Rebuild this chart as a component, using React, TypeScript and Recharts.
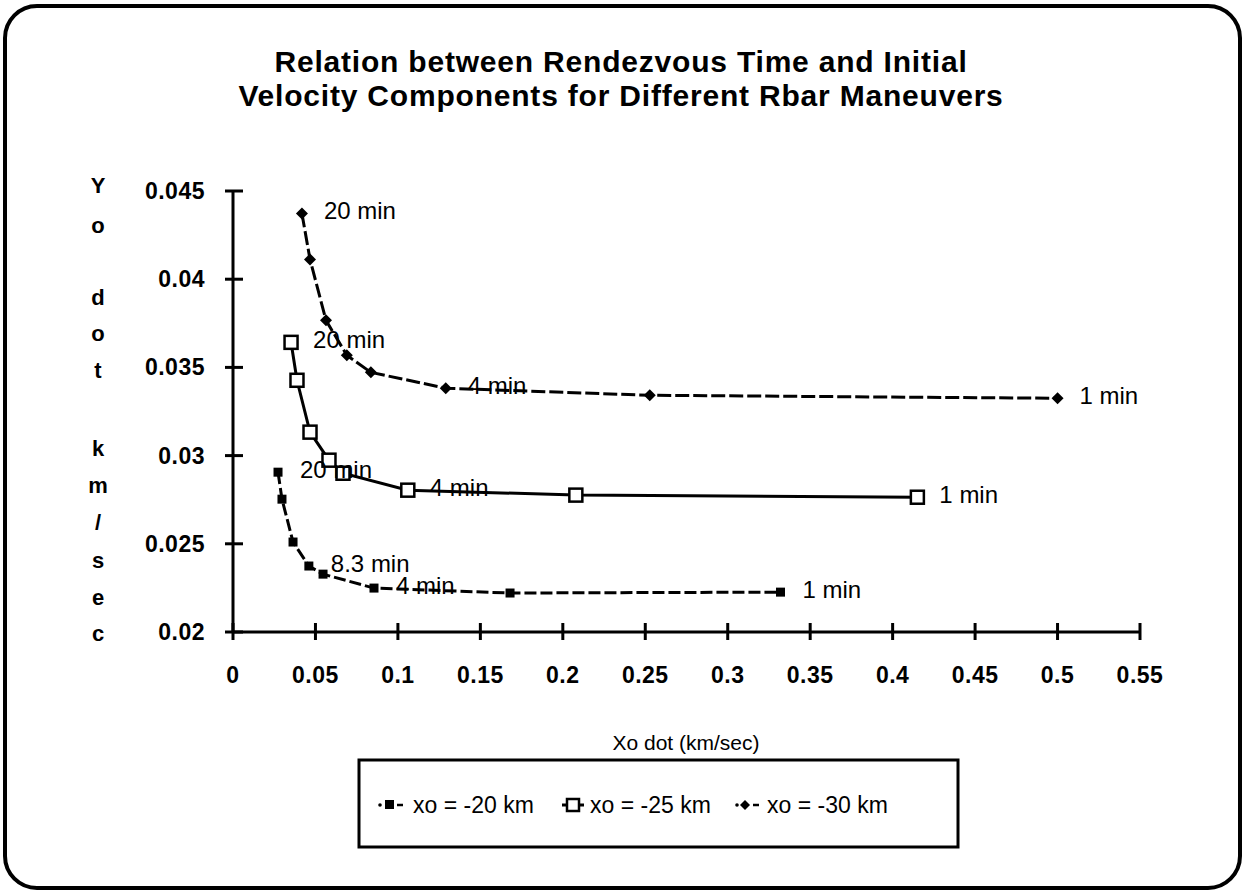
import React from 'react';
import { LineChart, Line, XAxis, YAxis, LabelList } from 'recharts';

const FONT = '"Liberation Sans", Arial, Helvetica, sans-serif';

// Axis ticks
const xTicks = [0, 0.05, 0.1, 0.15, 0.2, 0.25, 0.3, 0.35, 0.4, 0.45, 0.5, 0.55];
const yTicks = [0.02, 0.025, 0.03, 0.035, 0.04, 0.045];

// Series xo = -20 km
const xdot20 = [0.0273, 0.0297, 0.0364, 0.046, 0.0546, 0.0855, 0.168, 0.332];
const ydot20 = [0.02906, 0.02753, 0.0251, 0.02374, 0.02328, 0.02249, 0.02221, 0.02226];
const labels20 = ['20 min', '', '', '8.3 min', '', '4 min', '', '1 min'];

// Series xo = -25 km
const xdot25 = [0.0352, 0.0388, 0.0467, 0.0582, 0.0667, 0.106, 0.2079, 0.415];
const ydot25 = [0.03642, 0.03427, 0.03133, 0.02974, 0.029, 0.02804, 0.02776, 0.02764];
const labels25 = ['20 min', '', '', '', '', '4 min', '', '1 min'];

// Series xo = -30 km
const xdot30 = [0.0418, 0.0467, 0.0564, 0.069, 0.0836, 0.129, 0.2527, 0.5];
const ydot30 = [0.04373, 0.04112, 0.03767, 0.03569, 0.03472, 0.03382, 0.03342, 0.03325];
const labels30 = ['20 min', '', '', '', '', '4 min', '', '1 min'];

const titleLines = [
  'Relation between Rendezvous Time and Initial',
  'Velocity Components for Different Rbar Maneuvers',
];
const yLabelLetters = ['Y', 'o', 'd', 'o', 't', 'k', 'm', '/', 's', 'e', 'c'];
const xLabel = 'Xo dot (km/sec)';
const legendNames = ['xo = -20 km', 'xo = -25 km', 'xo = -30 km'];

function build(xs: number[], ys: number[], ls: string[]) {
  return xs.map((x, i) => ({ x, y: ys[i], label: ls[i] }));
}
const d20 = build(xdot20, ydot20, labels20);
const d25 = build(xdot25, ydot25, labels25);
const d30 = build(xdot30, ydot30, labels30);

const fmt = (v: number) => String(Number(v.toFixed(4)));

const XTick = (props: any) => {
  const { x, y, payload } = props;
  return (
    <g>
      <line x1={x} x2={x} y1={y - 9} y2={y + 8} stroke="#000" strokeWidth={3} />
      <text x={x} y={y + 43} textAnchor="middle" dominantBaseline="central"
        fontFamily={FONT} fontSize={23} fontWeight="bold" letterSpacing={0.5} fill="#000">
        {fmt(payload.value)}
      </text>
    </g>
  );
};

const YTick = (props: any) => {
  const { x, y, payload } = props;
  return (
    <g>
      <line x1={x - 8} x2={x + 10} y1={y} y2={y} stroke="#000" strokeWidth={3} />
      <text x={x - 28} y={y} textAnchor="end" dominantBaseline="central"
        fontFamily={FONT} fontSize={23} fontWeight="bold" letterSpacing={0.5} fill="#000">
        {fmt(payload.value)}
      </text>
    </g>
  );
};

const FilledSquare = (p: any) => {
  const { cx, cy, index } = p;
  if (cx == null || cy == null) return <g key={`a${index}`} />;
  return <rect key={`a${index}`} x={cx - 4.5} y={cy - 4.5} width={9} height={9} fill="#000" />;
};
const OpenSquare = (p: any) => {
  const { cx, cy, index } = p;
  if (cx == null || cy == null) return <g key={`b${index}`} />;
  return <rect key={`b${index}`} x={cx - 6.5} y={cy - 6.5} width={13} height={13} fill="#fff" stroke="#000" strokeWidth={2.5} />;
};
const Diamond = (p: any) => {
  const { cx, cy, index } = p;
  if (cx == null || cy == null) return <g key={`c${index}`} />;
  return <polygon key={`c${index}`} points={`${cx},${cy - 6} ${cx + 6},${cy} ${cx},${cy + 6} ${cx - 6},${cy}`} fill="#000" />;
};

const renderLabel = (p: any) => {
  const { x, y, value } = p;
  if (!value) return null;
  return (
    <text x={x + 22} y={y - 3} dominantBaseline="central" fontFamily={FONT}
      fontSize={24} fill="#000">
      {value}
    </text>
  );
};

export default function App() {
  return (
    <div style={{ position: 'absolute', left: 0, top: 0, width: 1244, height: 892, background: '#fff', fontFamily: FONT }}>
      <div style={{ position: 'absolute', left: 0, top: 0 }}>
        <LineChart width={1244} height={892} margin={{ top: 191, right: 104, bottom: 200, left: 133 }}>
          <XAxis type="number" dataKey="x" domain={[0, 0.55]} ticks={xTicks} interval={0}
            allowDataOverflow tickSize={0} tickMargin={0} tickLine={false} tick={XTick}
            axisLine={{ stroke: '#000', strokeWidth: 3 }} height={60} />
          <YAxis type="number" dataKey="y" domain={[0.02, 0.045]} ticks={yTicks} interval={0}
            allowDataOverflow tickSize={0} tickMargin={0} tickLine={false} tick={YTick}
            axisLine={{ stroke: '#000', strokeWidth: 3 }} width={100} />
          <Line data={d20} dataKey="y" name={legendNames[0]} type="linear" stroke="#000" strokeWidth={3}
            strokeDasharray="12 4" dot={FilledSquare} activeDot={false} isAnimationActive={false}>
            <LabelList dataKey="label" content={renderLabel} />
          </Line>
          <Line data={d25} dataKey="y" name={legendNames[1]} type="linear" stroke="#000" strokeWidth={3}
            dot={OpenSquare} activeDot={false} isAnimationActive={false}>
            <LabelList dataKey="label" content={renderLabel} />
          </Line>
          <Line data={d30} dataKey="y" name={legendNames[2]} type="linear" stroke="#000" strokeWidth={3}
            strokeDasharray="14 4" dot={Diamond} activeDot={false} isAnimationActive={false}>
            <LabelList dataKey="label" content={renderLabel} />
          </Line>
        </LineChart>
      </div>
      <svg width={1244} height={892} style={{ position: 'absolute', left: 0, top: 0, pointerEvents: 'none' }}>
        <rect x={5} y={6} width={1235} height={882} rx={32} ry={32} fill="none" stroke="#000" strokeWidth={4} />
        {titleLines.map((t, i) => (
          <text key={t} x={621} y={61 + i * 34} textAnchor="middle" dominantBaseline="central"
            fontFamily={FONT} fontSize={30} fontWeight="bold" letterSpacing={0.8} fill="#000">{t}</text>
        ))}
        {yLabelLetters.map((l, i) => {
          const ys = [185, 225, 297, 333, 370, 448, 485, 522, 560, 597, 633];
          return (
            <text key={i} x={98} y={ys[i]} textAnchor="middle" dominantBaseline="central"
              fontFamily={FONT} fontSize={22} fontWeight="bold" fill="#000">{l}</text>
          );
        })}
        <text x={686} y={742} textAnchor="middle" dominantBaseline="central" fontFamily={FONT}
          fontSize={21} fill="#000">{xLabel}</text>
        <rect x={359} y={760} width={599} height={87} fill="none" stroke="#000" strokeWidth={3} />
        {/* legend item 1 */}
        <circle cx={380} cy={805} r={1.8} fill="#000" />
        <rect x={385} y={800} width={9} height={9} fill="#000" />
        <line x1={397} x2={403} y1={805} y2={805} stroke="#000" strokeWidth={2.5} />
        <text x={413} y={805} dominantBaseline="central" fontFamily={FONT} fontSize={23} fill="#000">{legendNames[0]}</text>
        {/* legend item 2 */}
        <line x1={562} x2={584} y1={805} y2={805} stroke="#000" strokeWidth={3} />
        <rect x={567} y={799} width={12} height={12} fill="#fff" stroke="#000" strokeWidth={2.5} />
        <text x={590} y={805} dominantBaseline="central" fontFamily={FONT} fontSize={23} fill="#000">{legendNames[1]}</text>
        {/* legend item 3 */}
        <circle cx={737} cy={805} r={1.8} fill="#000" />
        <polygon points="745,800 750,805 745,810 740,805" fill="#000" />
        <line x1={753} x2={759} y1={805} y2={805} stroke="#000" strokeWidth={2.5} />
        <text x={767} y={805} dominantBaseline="central" fontFamily={FONT} fontSize={23} fill="#000">{legendNames[2]}</text>
      </svg>
    </div>
  );
}
